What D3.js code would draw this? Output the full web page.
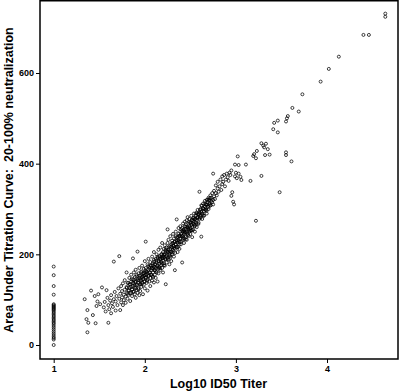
<!DOCTYPE html>
<html><head><meta charset="utf-8">
<script src="https://cdn.jsdelivr.net/npm/d3@7"></script>
<style>html,body{margin:0;padding:0;background:#fff}</style>
</head><body>
<svg id="c" width="400" height="392"></svg>
<script>
const xTicks = [1, 2, 3, 4];
const yTicks = [0, 200, 400, 600];
const xTitle = "Log10 ID50 Titer";
const yTitle = "Area Under Titration Curve:  20-100% neutralization";

// samples at the detection limit (log10 titer = 1)
const aucAtLimit = [173,154,130,111,90,88,86,84,82,80,78,76,73,70,67,64,61,58,55,52,49,46,42,38,34,30,26,22,18,15,12,0];

// samples [log10 titer, AUC] — broad cloud and outliers
const points = [
[1.34,101],[1.36,57],[1.37,77],[1.38,49],[1.37,28],[1.41,120],[1.43,66],[1.46,48],[1.47,86],[1.48,96],[1.45,108],[1.49,112],[1.51,90],
[1.53,127],[1.55,83],[1.56,95],[1.57,74],[1.58,121],[1.59,104],[1.60,49],[1.60,88],[1.61,79],[1.62,98],[1.63,110],[1.63,70],[1.64,92],[1.65,84],[1.66,184],[1.66,101],[1.67,117],[1.68,76],[1.68,96],
[1.69,108],[1.70,88],[1.71,125],[1.72,196],[1.72,102],[1.73,77],[1.73,113],[1.74,94],[1.74,130],[1.75,119],[1.75,105],[1.76,88],[1.76,136],[1.77,111],[1.77,99],[1.78,143],[1.78,122],[1.79,107],[1.79,93],[1.80,128],[1.80,115],[1.80,160],
[1.81,102],[1.81,137],[1.82,120],[1.82,110],[1.83,148],[1.83,126],[1.84,97],[1.84,133],[1.85,115],[1.85,155],[1.85,140],[1.86,122],[1.86,108],[1.87,130],[1.87,145],[1.87,191],[1.88,118],[1.88,160],[1.88,136],[1.89,112],[1.89,150],[1.89,127],[1.90,140],[1.90,104],[1.90,166],[1.91,132],[1.91,121],[1.91,155],[1.92,206],[1.92,143],[1.92,115],[1.93,137],[1.93,158],[1.93,126],[1.94,148],[1.94,110],[1.94,170],[1.95,134],[1.95,152],[1.95,119],
[1.96,142],[1.96,162],[1.96,128],[1.97,150],[1.97,175],[1.97,137],[1.98,112],[1.98,158],[1.98,145],[1.99,168],[1.99,133],[1.99,152],[2.00,160],[2.00,140],[2.00,185],[2.00,125],[2.01,228],[2.01,150],[2.01,170],[2.02,137],[2.02,162],[2.02,155],[2.03,145],[2.03,178],[2.03,120],[2.04,166],[2.04,152],[2.04,190],[2.05,140],[2.05,172],[2.05,160],[2.06,148],[2.06,183],[2.06,130],[2.07,165],[2.07,175],[2.07,155],[2.08,195],[2.08,142],[2.08,170],[2.09,160],[2.09,180],[2.09,150],[2.10,172],[2.10,188],[2.10,138],[2.10,205],
[2.11,165],[2.11,178],[2.11,155],[2.12,190],[2.12,170],[2.12,148],[2.13,182],[2.13,200],[2.13,160],[2.14,175],[2.14,192],[2.14,140],[2.15,168],[2.15,185],[2.15,210],[2.15,158],[2.16,180],[2.16,196],[2.16,172],[2.17,190],[2.17,165],[2.17,215],[2.18,184],[2.18,200],[2.18,176],[2.19,170],[2.19,192],[2.19,225],[2.20,186],[2.20,205],[2.20,160],[2.20,196],[2.21,180],[2.21,212],[2.21,193],[2.22,200],[2.22,175],[2.22,220],[2.23,134],[2.23,190],[2.23,208],[2.24,198],[2.24,215],[2.24,182],[2.25,255],[2.25,205],[2.25,192],[2.25,225],
[2.26,210],[2.26,188],[2.26,232],[2.27,200],[2.27,218],[2.27,178],[2.28,212],[2.28,240],[2.28,196],[2.29,222],[2.29,205],[2.29,185],[2.30,215],[2.30,230],[2.30,200],[2.31,225],[2.31,245],[2.31,210],[2.32,218],[2.32,235],[2.32,195],[2.33,165],[2.33,228],[2.33,212],[2.34,240],[2.34,222],[2.34,250],[2.35,277],[2.35,230],[2.35,215],[2.36,238],[2.36,226],[2.36,205],[2.37,245],[2.37,232],[2.37,258],[2.38,222],[2.38,240],[2.38,212],[2.39,250],[2.39,235],[2.39,262],[2.40,245],[2.40,228],[2.40,255],
[2.41,182],[2.41,240],[2.41,258],[2.42,250],[2.42,235],[2.42,268],[2.43,245],[2.43,255],[2.43,225],[2.44,262],[2.44,248],[2.44,272],[2.45,238],[2.45,256],[2.45,266],[2.46,250],[2.46,275],[2.46,232],[2.47,260],[2.47,245],[2.47,282],[2.48,255],[2.48,268],[2.48,240],[2.49,262],[2.49,250],[2.49,278],[2.50,258],[2.50,270],[2.50,245],[2.51,265],[2.51,285],[2.51,252],[2.52,275],[2.52,260],[2.52,238],[2.53,268],[2.53,280],[2.53,255],[2.54,272],[2.54,290],[2.55,262],[2.55,278],[2.55,250],
[2.56,285],[2.56,270],[2.57,292],[2.57,276],[2.57,260],[2.58,282],[2.58,298],[2.59,270],[2.59,288],[2.60,338],[2.60,292],[2.60,278],[2.61,300],[2.61,285],[2.62,239],[2.62,295],[2.62,308],[2.63,290],[2.63,278],[2.64,302],[2.64,312],[2.65,295],[2.65,285],[2.66,305],[2.66,318],[2.67,298],[2.67,310],[2.68,290],[2.68,320],[2.69,305],[2.69,315],[2.70,300],[2.70,325],
[2.71,312],[2.71,320],[2.72,330],[2.72,308],[2.73,318],[2.73,325],[2.74,315],[2.74,335],[2.75,378],[2.75,320],[2.75,310],[2.76,328],[2.76,340],[2.77,322],[2.78,335],[2.78,352],[2.79,330],[2.80,345],[2.80,360],[2.81,338],[2.82,350],[2.83,365],[2.84,342],[2.85,355],[2.85,372],
[2.86,360],[2.87,375],[2.88,350],[2.89,365],[2.90,378],[2.91,370],[2.92,362],[2.93,380],[2.94,375],[2.95,329],[2.95,385],[2.96,337],[2.97,316],[2.98,310],[2.99,398],[2.99,372],[3.00,380],[3.01,368],[3.02,416],[3.03,397],[3.03,378],[3.05,371],[3.06,364],
[3.11,398],[3.16,362],[3.19,417],[3.20,421],[3.22,412],[3.22,274],[3.23,428],[3.28,373],[3.28,445],[3.30,440],[3.31,436],[3.32,419],[3.33,444],[3.35,432],[3.37,420],[3.41,476],[3.42,490],[3.46,495],[3.46,469],[3.48,337],[3.55,425],[3.55,419],[3.55,493],[3.56,500],[3.57,505],[3.61,405],[3.62,523],[3.69,515],[3.73,553],[3.93,581],[4.02,609],[4.13,636],[4.40,684],[4.46,684],[4.64,724],[4.64,731]
];

// samples in the dense core of the cloud [log10 titer, AUC]
const corePoints = [
[1.803,126],[1.811,113],[1.819,137],[1.826,121],[1.834,134],[1.839,114],[1.847,129],[1.855,145],[1.861,123],[1.868,137],[1.874,117],[1.882,143],[1.889,132],[1.895,139],[1.901,125],[1.908,151],[1.916,133],[1.922,146],[1.929,123],[1.935,143],[1.943,153],[1.949,135],[1.956,144],[1.962,160],[1.968,134],[1.975,152],[1.983,145],[1.989,158],[1.994,141],
[2.001,154],[2.007,164],[2.014,148],[2.019,161],[2.026,142],[2.032,158],[2.038,174],[2.045,153],[2.051,169],[2.058,160],[2.063,175],[2.071,154],[2.077,169],[2.084,152],[2.089,176],[2.096,169],[2.102,184],[2.109,165],[2.115,178],[2.122,162],[2.128,186],[2.133,174],[2.141,195],[2.147,171],[2.154,184],[2.160,193],[2.166,169],[2.173,191],[2.179,182],[2.186,200],[2.192,179],[2.198,192],
[2.205,200],[2.211,176],[2.218,199],[2.224,189],[2.230,211],[2.237,195],[2.243,207],[2.250,189],[2.256,205],[2.263,215],[2.269,197],[2.275,206],[2.282,193],[2.288,217],[2.295,206],[2.301,224],[2.307,204],[2.314,219],[2.320,214],[2.326,227],[2.333,203],[2.339,222],[2.346,237],[2.352,217],[2.358,231],[2.365,216],[2.371,229],[2.377,241],[2.384,227],[2.390,240],[2.397,222],
[2.403,241],[2.409,252],[2.416,232],[2.422,241],[2.428,252],[2.435,235],[2.441,249],[2.448,233],[2.454,261],[2.460,248],[2.467,259],[2.473,242],[2.480,258],[2.486,272],[2.492,253],[2.499,269],[2.505,253],[2.512,265],[2.518,276],[2.524,253],[2.531,274],[2.537,266],[2.543,281],[2.550,265],[2.556,278],[2.563,290],[2.569,267],[2.575,280],[2.582,289],[2.588,267],[2.595,289],
[2.601,281],[2.607,298],[2.614,281],[2.620,293],[2.627,307],[2.633,287],[2.640,302],[2.646,286],[2.652,300],[2.659,312],[2.665,298],[2.672,309],[2.678,296],[2.684,310],[2.691,321],[2.697,304],[2.703,319],[2.710,310],[2.716,324],[2.722,308]
];

const allPts = aucAtLimit.map(v => [1, v]).concat(points, corePoints);

const L = 40, R = 398, T = 0.75, B = 359;
const x = d3.scaleLinear().domain([1, 4]).range([53.7, 327]);
const y = d3.scaleLinear().domain([0, 600]).range([345, 73]);

const svg = d3.select("#c");
const font = "'Liberation Sans', Arial, sans-serif";

svg.append("g").selectAll("circle").data(allPts).join("circle")
  .attr("cx", d => x(d[0])).attr("cy", d => y(d[1])).attr("r", 1.5)
  .attr("fill", "none").attr("stroke", "#000").attr("stroke-width", 0.75);

svg.append("rect").attr("x", L).attr("y", T).attr("width", R - L).attr("height", B - T)
  .attr("fill", "none").attr("stroke", "#000").attr("stroke-width", 1.5);

const xa = svg.append("g").attr("transform", `translate(0,${B})`)
  .call(d3.axisBottom(x).tickValues(xTicks).tickSize(4).tickPadding(3).tickFormat(d3.format("d")));
xa.select(".domain").remove();
const ya = svg.append("g").attr("transform", `translate(${L},0)`)
  .call(d3.axisLeft(y).tickValues(yTicks).tickSize(4).tickPadding(2).tickFormat(d3.format("d")));
ya.select(".domain").remove();
svg.selectAll(".tick text").attr("font-family", font).attr("font-size", 9).attr("font-weight", "bold").attr("fill", "#000");
svg.selectAll(".tick line").attr("stroke", "#000").attr("stroke-width", 1);

svg.append("text").attr("x", (L + R) / 2 - 0.5).attr("y", 388)
  .attr("text-anchor", "middle").attr("font-family", font).attr("font-size", 12.5).attr("font-weight", "bold")
  .text(xTitle);
svg.append("text").attr("transform", "translate(13,180) rotate(-90)")
  .attr("text-anchor", "middle").attr("font-family", font).attr("font-size", 12.5).attr("font-weight", "bold")
  .style("white-space", "pre")
  .text(yTitle);
</script>
</body></html>
